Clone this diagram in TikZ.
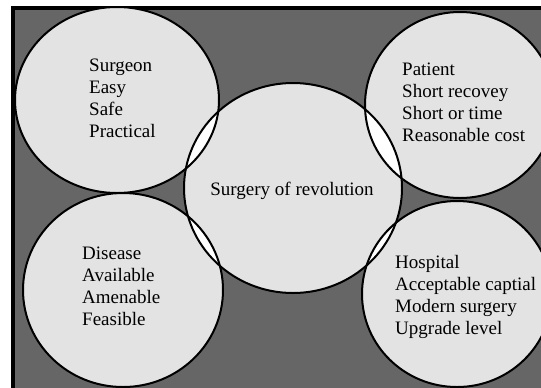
\documentclass[tikz,border=0pt]{standalone}
\usepackage{fontspec}
\setmainfont{Liberation Serif}
\definecolor{bggray}{RGB}{102,102,102}
\definecolor{disc}{RGB}{227,227,227}
\def\blob[#1](#2)(#3:#4){\path[#1] (#2) ellipse (#3 and #4);}

\begin{document}
\begin{tikzpicture}[x=1bp, y=-1bp,
		ring/.style={draw=black, line width=2bp},
		listtext/.style={anchor=base west, inner sep=0pt, align=left,
			font=\fontsize{19bp}{22bp}\selectfont}]
		%%%%% START %%%%%
		
		\useasboundingbox (0, 0) rectangle (541, 387);
		\clip (0, 0) rectangle (541, 387);
		
		\draw[fill=bggray, line width=3.5bp] (13, 8) rectangle (570, 420);
		
		\blob[fill=disc](117, 100)(102:93);
		\blob[fill=disc](460, 105)(95:93);
		\blob[fill=disc](123, 290)(100:97);
		\blob[fill=disc](457, 294)(95:93);
		\blob[fill=disc](293, 188)(109:105);
		
		\begin{scope}
			\clip (293, 188) ellipse (109 and 105);
			\blob[fill=white](117, 100)(102:93);
			\blob[fill=white](460, 105)(95:93);
			\blob[fill=white](123, 290)(100:97);
			\blob[fill=white](457, 294)(95:93);
		\end{scope}
		
		\blob[ring](117, 100)(102:93);
		\blob[ring](460, 105)(95:93);
		\blob[ring](123, 290)(100:97);
		\blob[ring](457, 294)(95:93);
		\blob[ring](293, 188)(109:105);
		
		% base anchor sits on the last line
		\node[listtext] (surgeon) at (89, 137) {Surgeon\\Easy\\Safe\\Practical};
		\node[listtext] (patient) at (402, 141) {Patient\\Short recovey\\Short or time\\Reasonable cost};
		\node[listtext, anchor=base] (core) at (292, 195) {Surgery of revolution};
		\node[listtext] (disease) at (82, 325) {Disease\\Available\\Amenable\\Feasible};
		\node[listtext] (hospital) at (395, 334) {Hospital\\Acceptable captial\\Modern surgery\\Upgrade level};
		
		%%%%% END %%%%%
\end{tikzpicture}
\end{document}
